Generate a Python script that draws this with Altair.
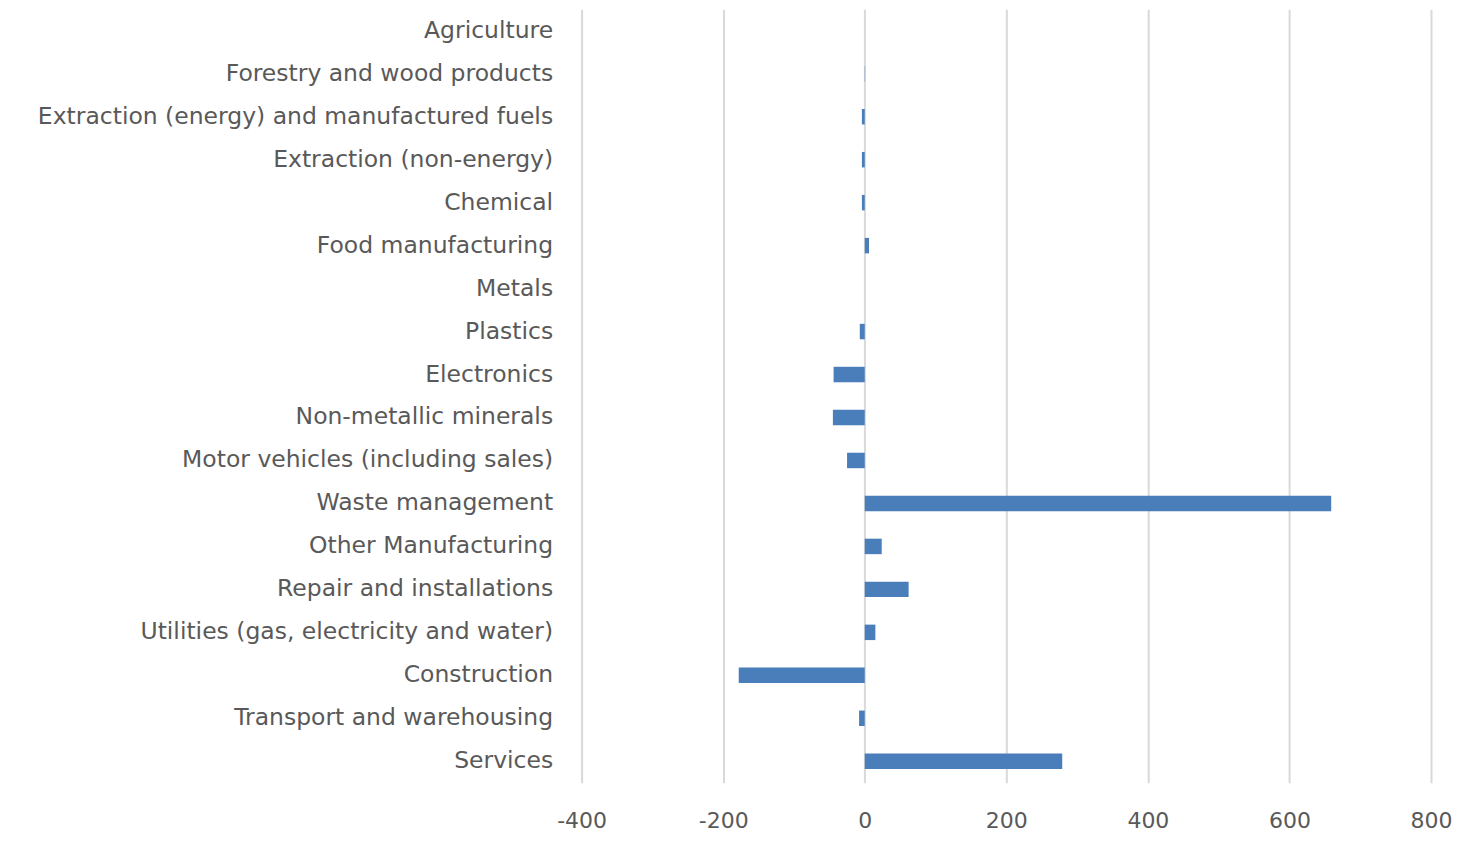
import altair as alt
import pandas as pd

categories = [
    "Agriculture",
    "Forestry and wood products",
    "Extraction (energy) and manufactured fuels",
    "Extraction (non-energy)",
    "Chemical",
    "Food manufacturing",
    "Metals",
    "Plastics",
    "Electronics",
    "Non-metallic minerals",
    "Motor vehicles (including sales)",
    "Waste management",
    "Other Manufacturing",
    "Repair and installations",
    "Utilities (gas, electricity and water)",
    "Construction",
    "Transport and warehousing",
    "Services",
]
values = [0, 0.5, -4, -4, -4, 6, 0, -7, -44, -45, -25, 659, 24, 62, 15, -178, -8, 279]
x_ticks = [-400, -200, 0, 200, 400, 600, 800]

df = pd.DataFrame({"category": categories, "value": values})

chart = (
    alt.Chart(df)
    .mark_bar(color="#4a7ebb")
    .encode(
        x=alt.X(
            "value:Q",
            scale=alt.Scale(domain=[-400, 800], nice=False),
            axis=alt.Axis(
                values=x_ticks,
                title=None,
                domain=False,
                ticks=False,
                grid=True,
                gridColor="#d9d9d9",
                gridWidth=2,
                labelFont="DejaVu Sans",
                labelFontSize=22,
                labelColor="#595959",
                labelPadding=28,
                labelFlush=False,
                labelExpr="replace(format(datum.value, 'd'), '−', '-')",
            ),
        ),
        y=alt.Y(
            "category:N",
            sort=categories,
            scale=alt.Scale(paddingInner=0.64, paddingOuter=0.32),
            axis=alt.Axis(
                title=None,
                domain=False,
                ticks=False,
                labelFont="DejaVu Sans",
                labelFontSize=23.5,
                labelColor="#595959",
                labelPadding=29,
                labelLimit=700,
            ),
        ),
    )
    .properties(
        width=850,
        height=774,
        autosize=alt.AutoSizeParams(type="none"),
        padding={"left": 574, "top": 1, "right": 21, "bottom": 52},
    )
    .configure(background="white", view=alt.ViewConfig(stroke=None))
)

chart.save("out.html", embed_options={"renderer": "svg", "actions": False})
